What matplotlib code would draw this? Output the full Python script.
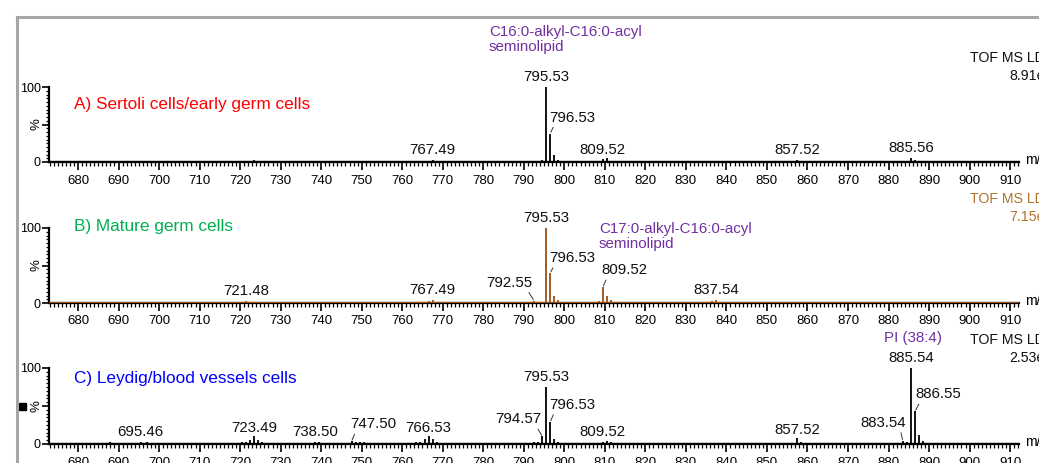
"""
    MALDI spectra of three testis regions (stacked panels, m/z 673-912).
"""

import matplotlib.pyplot as plt
from matplotlib.lines import Line2D
from matplotlib.patches import Rectangle
from matplotlib.ticker import MultipleLocator

plt.rcParams['font.family'] = ['Liberation Sans', 'DejaVu Sans']

# ---- data : peak m/z and relative intensity (%) ----
a_mz = [795.53, 796.53, 797.52, 798.5, 794.55, 793.5, 792.6, 799.5,
        809.52, 810.5, 811.5, 808.5, 812.5,
        767.49, 766.5, 768.5, 765.5,
        857.52, 858.5,
        885.56, 886.56, 884.5, 887.5,
        688.5, 695.5, 722.5, 723.5, 724.5, 738.5, 740.2, 747.5, 748.5, 749.5,
        751.0, 760.0, 783.0, 784.0, 786.5, 789.0, 821.5, 823.0, 824.5, 830.0,
        836.5, 845.0, 869.0, 871.0, 881.0, 883.0, 889.0]
a_int = [100, 38, 9, 3, 3, 1.5, 1.5, 1.2,
         3.5, 5, 2, 1.5, 1,
         3, 2, 1.5, 1.2,
         3, 1.5,
         6, 3, 1.5, 1.2,
         1.2, 1, 2, 2.2, 1.2, 1, 1.5, 1.5, 2, 1.8,
         1, 1, 1.8, 1, 1, 1, 1.5, 1.8, 1, 1,
         1, 0.8, 1.5, 1, 1, 1.5, 1]

b_mz = [795.53, 796.53, 797.52, 798.5, 799.5, 794.5, 792.55, 793.5, 791.5, 790.0, 788.0,
        809.52, 810.52, 811.5, 808.5, 812.5, 807.5,
        721.48, 722.5, 723.5, 720.5,
        767.49, 766.5, 765.5, 768.5, 764.5, 769.5, 763.0,
        837.54, 836.5, 838.5, 835.5,
        688.0, 695.5, 708.0, 740.0, 746.5, 747.5, 748.5, 749.5, 753.0, 773.0,
        777.0, 780.0, 781.5, 785.0, 822.0, 823.5, 857.5, 869.0, 880.5, 881.5,
        883.0, 884.5, 886.0, 887.0]
b_int = [100, 40, 10, 4, 2, 2, 3, 2, 1.5, 1.2, 1,
         21, 9, 4, 3, 1.5, 1.2,
         3, 1.5, 2, 1,
         4, 2.5, 2, 2, 1.5, 1.2, 1,
         4, 3, 2, 1.2,
         1.2, 2, 1, 1.2, 1.5, 2, 1.5, 1.2, 0.8, 1,
         1.5, 1.2, 1.5, 1, 1.5, 1.2, 1.2, 1, 1.5, 1.2,
         1.5, 1.2, 1.8, 1.2]

c_mz = [885.54, 886.55, 887.55, 888.5, 889.5, 883.54, 884.5, 882.5,
        795.53, 796.53, 797.52, 798.5, 794.57, 793.5, 792.5, 791.5, 790.5,
        789.5, 788.0, 786.5, 785.0, 783.5, 782.0, 799.5,
        809.52, 810.5, 811.5, 808.5,
        857.52, 858.5, 856.5,
        766.53, 765.5, 767.5, 764.5, 768.5, 763.5, 769.5,
        723.49, 722.5, 724.5, 721.5, 725.5, 720.5, 726.5, 719.0,
        738.5, 739.5, 737.5,
        747.5, 748.5, 749.5, 750.5, 751.5, 746.5, 744.0,
        695.46, 688.0, 697.0, 699.0, 701.0, 696.0,
        705.0, 710.0, 715.0, 717.0, 728.0, 731.0, 734.0, 741.0, 742.5, 754.0,
        756.0, 758.0, 761.0, 772.0, 775.0, 778.0, 780.0, 813.0, 815.0, 818.0,
        820.0, 822.0, 824.0, 828.0, 833.0, 835.0, 837.0, 839.0, 841.0, 843.0,
        845.0, 847.0, 849.0, 851.0, 853.0, 860.0, 862.0, 864.0, 866.0, 868.0,
        870.0, 872.0, 874.0, 876.0, 878.0, 880.0, 891.0, 893.0, 895.0, 897.0,
        899.0, 901.0, 903.0, 905.0, 907.0, 909.0]
c_int = [100, 43, 12, 4, 1.5, 4, 2.5, 1.5,
         75, 29, 7, 3, 10, 3, 2, 1.5, 1.5,
         1.2, 1.2, 1, 1.2, 1, 1, 1.5,
         3, 4, 2, 1.5,
         8, 2.5, 1.2,
         11, 6, 6, 3, 2.5, 2, 1.5,
         10, 5, 5, 3, 3, 2, 1.5, 1.5,
         3, 2, 1.5,
         3.5, 2, 2, 2, 1.5, 1.5, 1.5,
         2, 2, 2, 1.5, 1.5, 1.2,
         1, 1, 1.2, 1, 1.2, 1, 1, 1.5, 1, 1,
         1, 1.2, 1.5, 1.2, 1.2, 1.5, 1.2, 1.2, 1, 1.5,
         1.5, 1.2, 1.2, 1, 1.5, 1.5, 1.5, 1.2, 1.5, 1.2,
         1.5, 1.2, 1, 1, 1, 1, 1.2, 1, 1.2, 1.5,
         1.2, 1.5, 1.2, 1, 1.2, 1.2, 1.2, 1.2, 1, 1.2,
         1, 1, 1.2, 1, 1, 1]

a_labels = ['795.53', '796.53', '809.52', '767.49', '857.52', '885.56']
b_labels = ['795.53', '796.53', '792.55', '809.52', '721.48', '767.49', '837.54']
c_labels = ['885.54', '886.55', '883.54', '795.53', '796.53', '794.57', '809.52',
            '857.52', '766.53', '747.50', '738.50', '723.49', '695.46']

panel_titles = ['A) Sertoli cells/early germ cells', 'B) Mature germ cells',
                'C) Leydig/blood vessels cells']
tof_values = ['8.91e3', '7.15e3', '2.53e3']
lipid_notes = ['C16:0-alkyl-C16:0-acyl\nseminolipid',
               'C17:0-alkyl-C16:0-acyl\nseminolipid', 'PI (38:4)']

# ---- layout ----
W, H = 1039, 463
BROWN = '#9c4f12'
PURPLE = '#7030a0'

# label offsets in pixels from the peak top (default straight above)
a_off = {'796.53': (22, 16), '809.52': (0, 9), '885.56': (0, 10)}
b_off = {'796.53': (22, 15), '792.55': (-25, 18), '809.52': (22, 17)}
c_off = {'886.55': (23, 17), '883.54': (-20, 18), '796.53': (22, 17),
         '794.57': (-24, 17), '747.50': (22, 17), '857.52': (0, 8),
         '766.53': (0, 8), '723.49': (0, 8)}


def px(x, y):
    return x / W, 1 - y / H


def draw_panel(ax, mz, inten, color, labels, offsets) -> None:
    ax.vlines(mz, 0, inten, color=color, lw=1.3, zorder=3)
    ax.axhline(0, color=color, lw=1.6, zorder=3)
    ax.set_xlim(672.84, 912.2)
    ax.set_ylim(0, 100)
    for s in ['top', 'right']:
        ax.spines[s].set_visible(False)
    for s in ['left', 'bottom']:
        ax.spines[s].set_linewidth(1.6)
    ax.xaxis.set_major_locator(MultipleLocator(10))
    ax.xaxis.set_minor_locator(MultipleLocator(1))
    ax.set_yticks([0, 50, 100], ['0', '', '100'])
    ax.yaxis.set_minor_locator(MultipleLocator(5))
    ax.tick_params(axis='x', which='major', length=6, width=1.2, labelsize=9.5, pad=3)
    ax.tick_params(axis='x', which='minor', length=3, width=0.9)
    ax.tick_params(axis='y', which='major', length=5, width=1.2, labelsize=9, pad=1)
    ax.tick_params(axis='y', which='minor', length=2.5, width=0.9)
    ax.annotate('%', xy=(0, 0.5), xycoords='axes fraction', xytext=(-12, 0),
                textcoords='offset pixels', rotation=90, ha='center', va='center',
                fontsize=9.5)
    ax.annotate('m/z', xy=(1, 0), xycoords='axes fraction', xytext=(6, 2),
                textcoords='offset pixels', ha='left', va='center', fontsize=10)

    lookup = dict(zip(mz, inten))
    for lab in labels:
        x = float(lab)
        y = lookup[min(lookup, key=lambda m: abs(m - x))]
        dx, dy = offsets.get(lab, (0, 10))
        arrow = None
        if dx != 0:
            arrow = dict(arrowstyle='-', lw=0.7, color='#333333', shrinkA=0, shrinkB=1,
                         relpos=(0.12, 0.05) if dx > 0 else (0.88, 0.05))
        ax.annotate(lab, xy=(x, y), xytext=(dx, dy), textcoords='offset pixels',
                    ha='center', va='center', fontsize=10.8, color='#111111',
                    arrowprops=arrow)


def main() -> None:
    fig = plt.figure(figsize=(W / 100, H / 100), dpi=100)

    # (top of axis px, zero line px)
    rows = [(87, 162), (228, 303), (368, 444)]
    data = [(a_mz, a_int, 'black', a_labels, a_off),
            (b_mz, b_int, BROWN, b_labels, b_off),
            (c_mz, c_int, 'black', c_labels, c_off)]
    for (top, zero), (mz, inten, col, labs, off) in zip(rows, data):
        ax = fig.add_axes([49 / W, 1 - zero / H, (1019 - 49) / W, (zero - top) / H])
        draw_panel(ax, mz, inten, col, labs, off)

    # panel titles
    title_cols = ['#ff0000', '#00b050', '#0000ff']
    title_y = [104, 227, 378]
    for t, c, y in zip(panel_titles, title_cols, title_y):
        fig.text(*px(74, y), t, color=c, fontsize=12.4, va='center', ha='left')

    # instrument text, top right of each panel (cut by the right edge, as in the source)
    tof_cols = ['#111111', '#b0742c', '#111111']
    tof_y = [58, 199, 340]
    for v, c, y in zip(tof_values, tof_cols, tof_y):
        fig.text(*px(970, y), 'TOF MS LD+', color=c, fontsize=10.2, va='center')
        fig.text(*px(1009, y + 18), v, color=c, fontsize=10.2, va='center')

    # lipid assignments
    fig.text(*px(489, 39.5), lipid_notes[0], color=PURPLE, fontsize=10.9,
             va='center', ha='left', linespacing=1.05)
    fig.text(*px(599, 236.5), lipid_notes[1], color=PURPLE, fontsize=10.9,
             va='center', ha='left', linespacing=1.05)
    fig.text(*px(913, 338), lipid_notes[2], color=PURPLE, fontsize=10.9,
             va='center', ha='center')

    # grey window frame and the small marker square
    fig.add_artist(Line2D([17 / W, 17 / W], [0, 1 - 17 / H], color='#a6a6a6', lw=2.2))
    fig.add_artist(Line2D([17 / W, 1], [1 - 17 / H, 1 - 17 / H], color='#a6a6a6', lw=2.2))
    fig.add_artist(Rectangle(px(19, 410), 7 / W, 7 / H, color='black'))

    fig.savefig('out.png', dpi=100)


if __name__ == "__main__":
    main()
